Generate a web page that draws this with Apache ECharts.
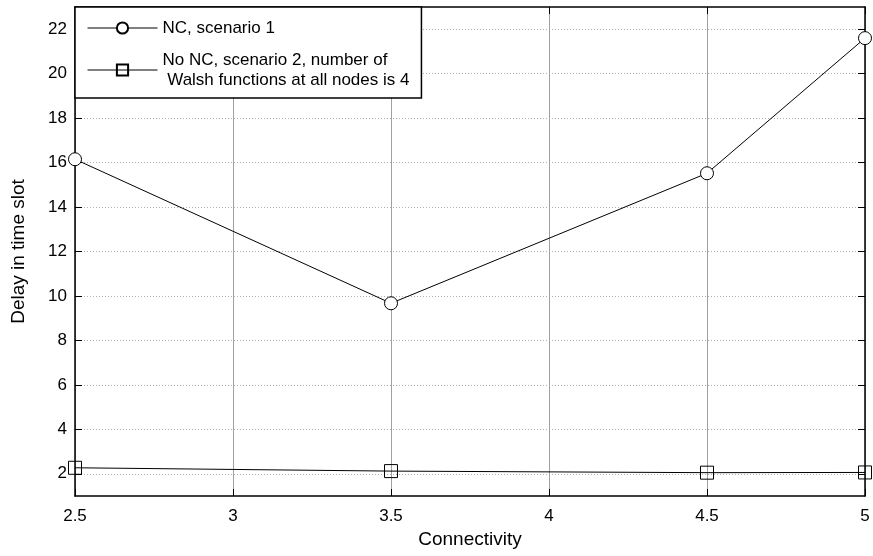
<!DOCTYPE html>
<html>
<head>
<meta charset="utf-8">
<script src="https://cdn.jsdelivr.net/npm/echarts@6/dist/echarts.min.js"></script>
<style>
  html, body { margin: 0; padding: 0; background: #fff; }
  #chart { width: 873px; height: 556px; }
</style>
</head>
<body>
<div id="chart"></div>
<script>
// Delay versus connectivity, with and without network coding
const connectivity = [2.5, 3.5, 4.5, 5];
const delayNC = [16.15, 9.67, 15.52, 21.6];
const delayNoNC = [2.27, 2.12, 2.05, 2.06];
const yTicks = [2, 4, 6, 8, 10, 12, 14, 16, 18, 20, 22];
const seriesNames = ['NC, scenario 1', 'No NC, scenario 2, number of\n Walsh functions at all nodes is 4'];

const FONT = 'Liberation Sans, Arial, sans-serif';
const chart = echarts.init(document.getElementById('chart'));

const tickStyle = { show: true, inside: true, length: 7, lineStyle: { color: '#000', width: 1 } };
const lineAxis = { show: true, onZero: false, lineStyle: { color: '#000', width: 1.5 } };

chart.setOption({
  animation: false,
  backgroundColor: '#fff',
  textStyle: { fontFamily: FONT },
  grid: { left: 75, right: 8, top: 7, bottom: 60, containLabel: false },
  legend: {
    orient: 'vertical',
    left: 75,
    top: 7,
    z: 10,
    padding: [11, 12, 8, 12],
    itemGap: 12,
    itemWidth: 70,
    itemHeight: 14,
    backgroundColor: '#fff',
    borderColor: '#000',
    borderWidth: 1.5,
    borderRadius: 0,
    lineStyle: { width: 1 },
    textStyle: { fontFamily: FONT, fontSize: 17, color: '#000', lineHeight: 20 },
    data: seriesNames
  },
  xAxis: [
    {
      type: 'value', min: 2.5, max: 5, interval: 0.5, position: 'bottom',
      name: 'Connectivity', nameLocation: 'middle', nameGap: 32,
      nameTextStyle: { fontSize: 19, color: '#000', fontFamily: FONT },
      axisLine: lineAxis,
      axisTick: tickStyle,
      axisLabel: { fontSize: 17, color: '#000', margin: 12, fontFamily: FONT },
      splitLine: { show: true, lineStyle: { color: '#a0a0a0', width: 1, type: 'solid' } }
    },
    {
      type: 'value', min: 2.5, max: 5, interval: 0.5, position: 'top',
      axisLine: lineAxis, axisTick: tickStyle,
      axisLabel: { show: false }, splitLine: { show: false }
    }
  ],
  yAxis: [
    {
      type: 'value', min: 1, max: 23, position: 'left',
      name: 'Delay in time slot', nameLocation: 'middle', nameGap: 47, nameRotate: 90,
      nameTextStyle: { fontSize: 19, color: '#000', fontFamily: FONT },
      axisLine: lineAxis,
      axisTick: Object.assign({}, tickStyle, { customValues: yTicks }),
      axisLabel: { fontSize: 17, color: '#000', margin: 8, fontFamily: FONT, customValues: yTicks },
      splitLine: { show: true, lineStyle: { color: '#b0b0b0', width: 1, type: [1, 2] } }
    },
    {
      type: 'value', min: 1, max: 23, position: 'right',
      axisLine: lineAxis,
      axisTick: Object.assign({}, tickStyle, { customValues: yTicks }),
      axisLabel: { show: false }, splitLine: { show: false }
    }
  ],
  series: [
    {
      name: seriesNames[0], type: 'line',
      data: connectivity.map((x, i) => [x, delayNC[i]]),
      symbol: 'circle', symbolSize: 13,
      itemStyle: { color: '#fff', borderColor: '#000', borderWidth: 1 },
      lineStyle: { color: '#000', width: 1 },
      emphasis: { disabled: true }
    },
    {
      name: seriesNames[1], type: 'line',
      data: connectivity.map((x, i) => [x, delayNoNC[i]]),
      symbol: 'rect', symbolSize: 13,
      itemStyle: { color: 'rgba(255,255,255,0)', borderColor: '#000', borderWidth: 1 },
      lineStyle: { color: '#000', width: 1 },
      emphasis: { disabled: true }
    }
  ]
});
</script>
</body>
</html>
